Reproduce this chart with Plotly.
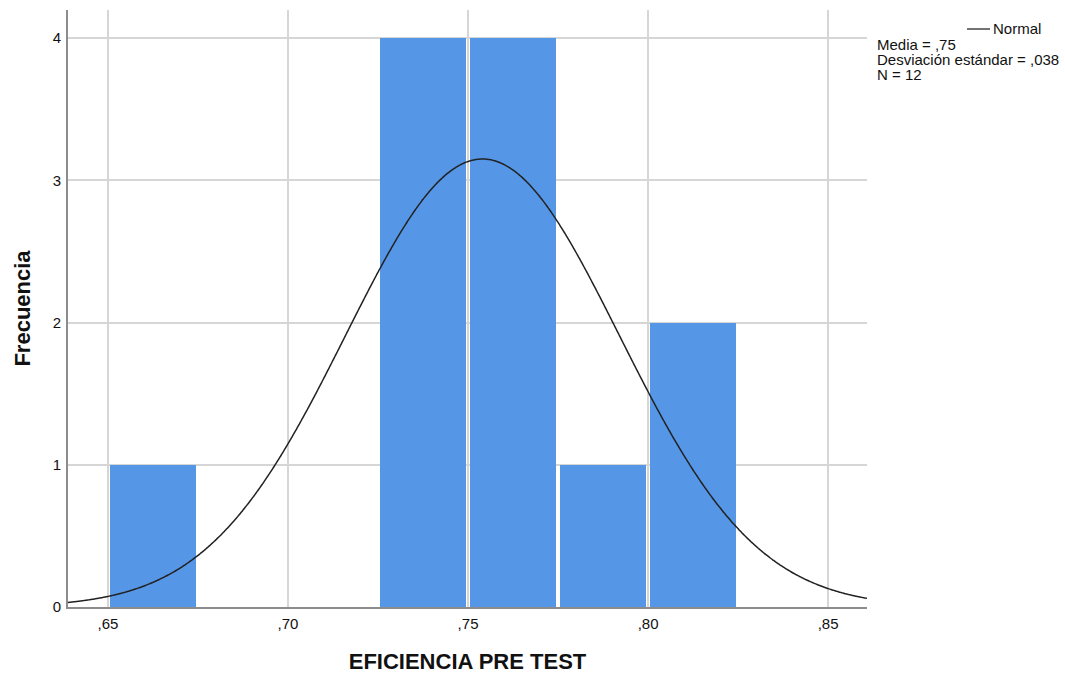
import numpy as np
import plotly.graph_objects as go

# Histogram data (bin centers, counts)
bin_centers = [0.6625, 0.6875, 0.7125, 0.7375, 0.7625, 0.7875, 0.8125]
counts = [1, 0, 0, 4, 4, 1, 2]
bin_width = 0.025

# Normal fit parameters
mean_val = 0.754
sd_val = 0.038
n_obs = 12

x_ticks = [0.65, 0.70, 0.75, 0.80, 0.85]
x_tick_labels = [",65", ",70", ",75", ",80", ",85"]
y_ticks = [0, 1, 2, 3, 4]

x_range = [0.6389, 0.8608]
y_range = [0, 4.197]

xs = np.linspace(x_range[0], x_range[1], 600)
ys = n_obs * bin_width / (sd_val * np.sqrt(2 * np.pi)) * np.exp(-0.5 * ((xs - mean_val) / sd_val) ** 2)

fig = go.Figure()
fig.add_trace(go.Bar(
    x=bin_centers, y=counts, width=bin_width * 0.95,
    marker=dict(color="#5596E6", line=dict(width=0)),
    showlegend=False, hoverinfo="x+y",
))
fig.add_trace(go.Scatter(
    x=xs, y=ys, mode="lines", line=dict(color="#222222", width=1.5, shape="spline"),
    name="Normal", showlegend=False,
))

font_family = "Liberation Sans, Arial, sans-serif"

fig.update_layout(
    width=1065, height=677,
    margin=dict(l=68, r=198, t=10, b=70),
    paper_bgcolor="white", plot_bgcolor="white",
    font=dict(family=font_family, color="#111111", size=15),
    bargap=0,
    xaxis=dict(
        range=x_range, tickvals=x_ticks, ticktext=x_tick_labels,
        showgrid=True, gridcolor="#d6d6d6", gridwidth=2,
        showline=True, linecolor="#8c8c8c", linewidth=2,
        ticks="", zeroline=False, tickfont=dict(size=15),
        ticklabelstandoff=2,
        title=dict(text="<b>EFICIENCIA PRE TEST</b>", font=dict(size=22), standoff=23),
        automargin=False,
    ),
    yaxis=dict(
        range=y_range, tickvals=y_ticks,
        showgrid=True, gridcolor="#d6d6d6", gridwidth=2,
        showline=True, linecolor="#8c8c8c", linewidth=2,
        ticks="", zeroline=False, tickfont=dict(size=15),
        ticklabelstandoff=2,
        title=dict(text="<b>Frecuencia</b>", font=dict(size=22), standoff=16),
        automargin=False,
    ),
)

def px_x(p):
    return (p - 68) / 799.0

def px_y(p):
    return (607 - p) / 597.0

# Legend line
fig.add_shape(type="line", xref="paper", yref="paper",
              x0=px_x(967), x1=px_x(990), y0=px_y(29), y1=px_y(29),
              line=dict(color="#444444", width=1.5))
fig.add_annotation(xref="paper", yref="paper", x=px_x(991), y=px_y(29),
                   text="Normal", showarrow=False, xanchor="left", yanchor="middle",
                   font=dict(size=15))
stats = [f"Media = ,{round(mean_val*100):d}", "Desviación estándar = ,038", f"N = {n_obs}"]
for i, s in enumerate(stats):
    fig.add_annotation(xref="paper", yref="paper", x=px_x(875), y=px_y(44.5 + 15 * i),
                       text=s, showarrow=False, xanchor="left", yanchor="middle",
                       font=dict(size=15))

fig.write_html("out.html")
